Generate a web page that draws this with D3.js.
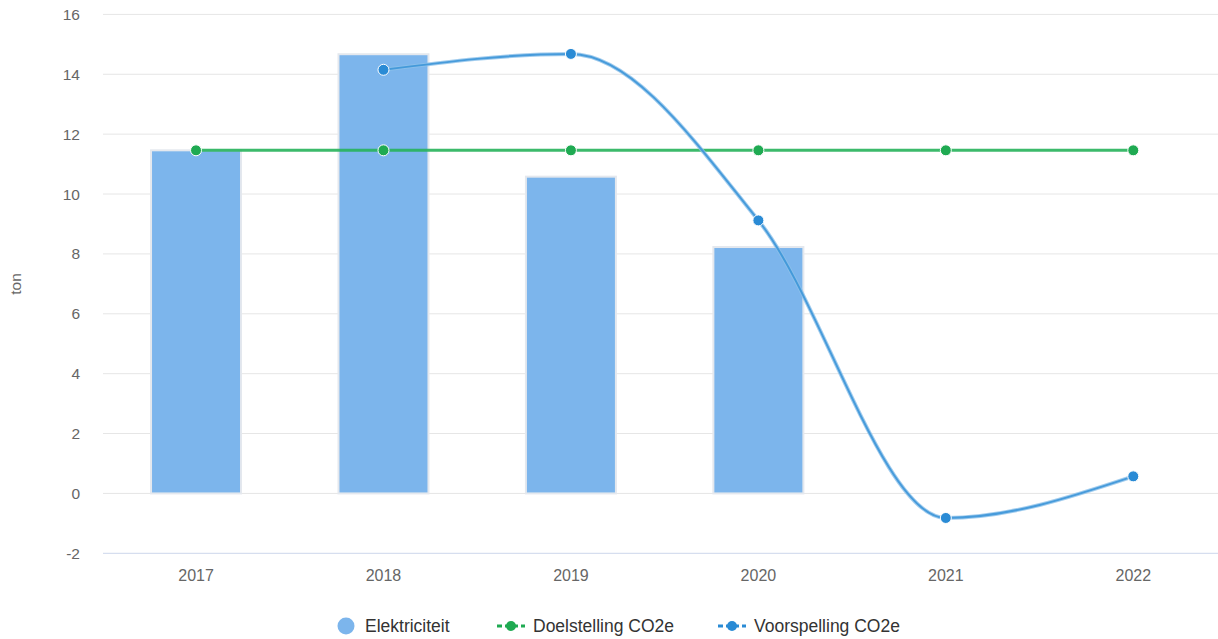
<!DOCTYPE html>
<html><head><meta charset="utf-8">
<script src="https://cdn.jsdelivr.net/npm/d3@7"></script>
<style>
html,body{margin:0;padding:0;background:#fff;}
svg{display:block;font-family:"Liberation Sans",Arial,sans-serif;}
</style></head>
<body>
<svg id="chart" width="1218" height="639"></svg>
<script>
const categories = ["2017","2018","2019","2020","2021","2022"];
const elektriciteit = [11.46, 14.67, 10.58, 8.23, null, null];
const doelstelling = [11.46, 11.46, 11.46, 11.46, 11.46, 11.46];
const voorspelling = [null, 14.15, 14.68, 9.12, -0.82, 0.57];
const yTicks = [-2, 0, 2, 4, 6, 8, 10, 12, 14, 16];
const seriesNames = ["Elektriciteit", "Doelstelling CO2e", "Voorspelling CO2e"];

const svg = d3.select("#chart");
const x = d3.scaleBand().domain(categories).range([102.3, 1227]).paddingInner(0).paddingOuter(0);
const y = d3.scaleLinear().domain([-2, 16]).range([553.3, 14.4]);
const cx = c => x(c) + x.bandwidth() / 2;

// gridlines
svg.append("g").selectAll("line").data(yTicks.filter(t => t !== -2)).join("line")
  .attr("x1", 103).attr("x2", 1218).attr("y1", d => y(d)).attr("y2", d => y(d))
  .attr("stroke", "#e6e6e6").attr("stroke-width", 1);
// x axis line
svg.append("line").attr("x1", 103).attr("x2", 1218).attr("y1", y(-2)).attr("y2", y(-2))
  .attr("stroke", "#ccd6eb").attr("stroke-width", 1);

// y axis labels
const yAxis = d3.axisLeft(y).tickValues(yTicks).tickSize(0).tickPadding(0).tickFormat(d => String(d));
const yg = svg.append("g").attr("transform", "translate(80,0)").call(yAxis);
yg.select(".domain").remove();
yg.selectAll("text").attr("font-size", "15.5px").attr("fill", "#666").attr("font-family", "Liberation Sans, Arial, sans-serif");

// x axis labels
const xAxis = d3.axisBottom(x).tickSize(0).tickPadding(0);
const xg = svg.append("g").attr("transform", `translate(0,${y(-2) + 16})`).call(xAxis);
xg.select(".domain").remove();
xg.selectAll("text").attr("font-size", "16px").attr("fill", "#666").attr("font-family", "Liberation Sans, Arial, sans-serif");

// y title
svg.append("text").attr("transform", "translate(21,284) rotate(-90)").attr("text-anchor", "middle")
  .attr("font-size", "15.5px").attr("fill", "#666").text("ton");

// bars
const barW = 90;
const barData = categories.map((c, i) => ({c, v: elektriciteit[i]})).filter(d => d.v !== null);
svg.append("g").selectAll("rect").data(barData).join("rect")
  .attr("x", d => cx(d.c) - barW / 2).attr("width", barW)
  .attr("y", d => y(d.v)).attr("height", d => y(0) - y(d.v))
  .attr("fill", "#7cb5ec").attr("stroke", "#e4e8ee").attr("stroke-width", 2);

// green line
const gData = categories.map((c, i) => ({c, v: doelstelling[i]})).filter(d => d.v !== null);
const lineG = d3.line().x(d => cx(d.c)).y(d => y(d.v));
svg.append("path").datum(gData).attr("d", lineG).attr("fill", "none")
  .attr("stroke", "#27b35b").attr("stroke-width", 3).attr("opacity", 0.9);
svg.append("g").selectAll("circle").data(gData).join("circle")
  .attr("cx", d => cx(d.c)).attr("cy", d => y(d.v)).attr("r", 5.5)
  .attr("fill", "#1faa52").attr("stroke", "#fff").attr("stroke-width", 1);

// blue spline
const bData = categories.map((c, i) => ({c, v: voorspelling[i]})).filter(d => d.v !== null);
const lineB = d3.line().x(d => cx(d.c)).y(d => y(d.v)).curve(d3.curveMonotoneX);
svg.append("path").datum(bData).attr("d", lineB).attr("fill", "none")
  .attr("stroke", "#8cc0ea").attr("stroke-width", 4).attr("opacity", 0.8);
svg.append("path").datum(bData).attr("d", lineB).attr("fill", "none")
  .attr("stroke", "#3d96d8").attr("stroke-width", 2).attr("opacity", 0.9);
svg.append("g").selectAll("circle").data(bData).join("circle")
  .attr("cx", d => cx(d.c)).attr("cy", d => y(d.v)).attr("r", 5.5)
  .attr("fill", "#2a8bd5").attr("stroke", "#fff").attr("stroke-width", 1);

// legend
const lg = svg.append("g").attr("font-size", "17.5px").attr("fill", "#333");
const ly = 626;
lg.append("circle").attr("cx", 346).attr("cy", ly).attr("r", 8.5).attr("fill", "#7cb5ec");
lg.append("text").attr("x", 365).attr("y", ly + 6).text(seriesNames[0]);
const legItems = [{x0: 497, col: "#1faa52", name: seriesNames[1], tx: 533},
                  {x0: 718, col: "#2a8bd5", name: seriesNames[2], tx: 754}];
legItems.forEach(it => {
  lg.append("line").attr("x1", it.x0).attr("x2", it.x0 + 28).attr("y1", ly).attr("y2", ly)
    .attr("stroke", it.col).attr("stroke-width", 3).attr("stroke-dasharray", "5,3");
  lg.append("circle").attr("cx", it.x0 + 14).attr("cy", ly).attr("r", 5).attr("fill", it.col);
  lg.append("text").attr("x", it.tx).attr("y", ly + 6).text(it.name);
});
</script>
</body></html>
